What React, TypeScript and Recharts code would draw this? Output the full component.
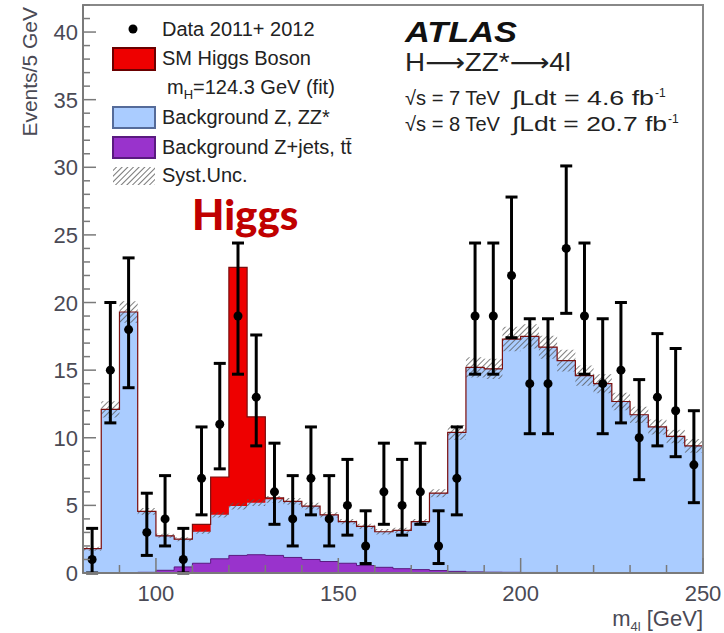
import { ComposedChart, Area, Scatter, ErrorBar, XAxis, YAxis, ReferenceArea } from "recharts";

// lower edge of each 5 GeV bin
const binLow = [
  80, 85, 90, 95, 100, 105, 110, 115, 120, 125, 130, 135, 140, 145, 150, 155, 160,
  165, 170, 175, 180, 185, 190, 195, 200, 205, 210, 215, 220, 225, 230, 235, 240, 245,
];
const higgs = [
  0, 0, 0, 0, 0, 0, 0.55, 2.8, 17.65, 6.35, 0.1, 0, 0, 0, 0, 0, 0,
  0, 0, 0, 0, 0, 0, 0, 0, 0, 0, 0, 0, 0, 0, 0, 0, 0,
];
const zz = [
  1.8, 12.1, 19.27, 4.5, 2.55, 2.05, 2.33, 3.25, 3.65, 3.85, 4.15, 4.15, 3.95, 3.45, 3.08, 2.9, 2.63,
  2.83, 3.55, 5.72, 10.28, 15.12, 15.04, 17.25, 17.46, 16.66, 15.67, 14.57, 13.98, 12.68, 11.7, 10.8, 10.1, 9.4,
];
const zjets = [
  0, 0, 0.03, 0.05, 0.2, 0.45, 0.72, 1.05, 1.3, 1.35, 1.3, 1.15, 1.0, 0.85, 0.72, 0.55, 0.42,
  0.32, 0.25, 0.18, 0.12, 0.08, 0.06, 0.05, 0.04, 0.04, 0.03, 0.03, 0.02, 0, 0, 0, 0, 0,
];
const syst = [
  0.15, 0.6, 0.8, 0.25, 0.15, 0.15, 0.15, 0.2, 0.25, 0.25, 0.25, 0.25, 0.25, 0.2, 0.2, 0.2, 0.2,
  0.2, 0.2, 0.3, 0.55, 0.75, 0.75, 0.9, 0.9, 0.85, 0.8, 0.75, 0.7, 0.65, 0.6, 0.55, 0.5, 0.5,
];
const dataCounts = [
  1, 15, 18, 3, 4, 1, 7, 11, 19, 13, 6, 4, 7, 4, 5, 2, 6,
  5, 6, 2, 7, 19, 19, 22, 14, 14, 24, 19, 14, 15, 10, 13, 12, 8,
];
const dataLow = [
  0, 11.1, 13.7, 1.3, 2.0, 0, 4.3, 7.7, 14.7, 9.4, 3.6, 2.0, 4.3, 2.0, 2.8, 0.7, 3.6,
  2.8, 3.6, 0.7, 4.3, 14.7, 14.7, 17.4, 10.3, 10.3, 19.2, 14.7, 10.3, 11.1, 6.9, 9.4, 8.6, 5.2,
];
const dataHigh = [
  3.3, 20.0, 23.3, 5.9, 7.2, 3.3, 10.8, 15.5, 24.4, 17.6, 9.6, 7.2, 10.8, 7.2, 8.4, 4.6, 9.6,
  8.4, 9.6, 4.6, 10.8, 24.4, 24.4, 27.8, 18.8, 18.8, 30.1, 24.4, 18.8, 20.0, 14.3, 17.7, 16.6, 12.0,
];

const xTicks = [90, 100, 110, 120, 130, 140, 150, 160, 170, 180, 190, 200, 210, 220, 230, 240, 250];
const xLabels = [100, 150, 200, 250];
const yTicks = [
  0, 1, 2, 3, 4, 5, 6, 7, 8, 9, 10, 11, 12, 13, 14, 15, 16, 17, 18, 19, 20, 21,
  22, 23, 24, 25, 26, 27, 28, 29, 30, 31, 32, 33, 34, 35, 36, 37, 38, 39, 40, 41, 42,
];
const yLabels = [0, 5, 10, 15, 20, 25, 30, 35, 40];

const edges = [...binLow, 250];
const histData = edges.map((x, i) => {
  const k = Math.min(i, binLow.length - 1);
  const bkg = zz[k] + zjets[k];
  return {
    x,
    zjets: zjets[k],
    bkg,
    total: bkg + higgs[k],
    band: [bkg - syst[k], bkg + syst[k]],
  };
});

const points = binLow.map((x, i) => ({
  x: x + 2.5,
  y: dataCounts[i],
  err: [dataCounts[i] - dataLow[i], dataHigh[i] - dataCounts[i]],
}));

const FONT = "'Liberation Sans', Arial, sans-serif";
const AXIS = "#7a7a7a";
const LABEL = "#4a4a55";

const XTick = (props: any) => {
  const { x, y, payload } = props;
  const major = xLabels.includes(payload.value);
  return (
    <g>
      <line x1={x} x2={x} y1={y} y2={y - (major ? 15 : 8)} stroke={AXIS} strokeWidth={1.5} />
      {major && (
        <text x={x} y={y + 28} textAnchor="middle" fontSize={22} fontFamily={FONT} fill={LABEL}>
          {payload.value}
        </text>
      )}
    </g>
  );
};

const YTick = (props: any) => {
  const { x, y, payload } = props;
  const major = yLabels.includes(payload.value);
  return (
    <g>
      <line x1={x} x2={x + (major ? 13 : 7)} y1={y} y2={y} stroke={AXIS} strokeWidth={1.5} />
      {major && (
        <text x={x - 5} y={y + 8} textAnchor="end" fontSize={22} fontFamily={FONT} fill={LABEL}>
          {payload.value}
        </text>
      )}
    </g>
  );
};

const Dot = (props: any) => <circle cx={props.cx} cy={props.cy} r={4.5} fill="#000" />;

function Overlay() {
  const t = { fontFamily: FONT, fill: "#222" };
  return (
    <svg width={724} height={633} style={{ position: "absolute", left: 0, top: 0, pointerEvents: "none" }}>
      <defs>
        <pattern id="hatchLegend" width="4" height="4" patternUnits="userSpaceOnUse" patternTransform="rotate(45)">
          <line x1="0" y1="0" x2="0" y2="4" stroke="#555" strokeWidth="1.6" />
        </pattern>
      </defs>
      {/* legend */}
      <circle cx={133} cy={29} r={4.5} fill="#000" />
      <text x={162} y={36} fontSize={20} {...t}>Data 2011+ 2012</text>
      <rect x={113} y={48} width={42} height={22} fill="#ee0000" stroke="#6a0000" strokeWidth={2} />
      <text x={162} y={65} fontSize={20} {...t}>SM Higgs Boson</text>
      <text x={167} y={94} fontSize={20} {...t}>
        m<tspan fontSize={13} dy={5}>H</tspan>
        <tspan dy={-5}>=124.3 GeV (fit)</tspan>
      </text>
      <rect x={113} y={107} width={42} height={21} fill="#aaccff" stroke="#556b99" strokeWidth={2} />
      <text x={162} y={124} fontSize={20} {...t}>Background Z, ZZ*</text>
      <rect x={113} y={137} width={42} height={21} fill="#9933cc" stroke="#5a1a80" strokeWidth={2} />
      <text x={162} y={154} fontSize={20} {...t}>Background Z+jets, tt̄</text>
      <rect x={113} y={167} width={42} height={18} fill="url(#hatchLegend)" />
      <text x={162} y={182} fontSize={20} {...t}>Syst.Unc.</text>

      {/* ATLAS block */}
      <text x={405} y={42} fontSize={30} fontWeight="bold" fontStyle="italic" fontFamily={FONT} fill="#111"
        textLength={112} lengthAdjust="spacingAndGlyphs">ATLAS</text>
      <text x={405} y={71} fontSize={25} fontFamily={FONT} fill="#222" textLength={166} lengthAdjust="spacingAndGlyphs">
        H<tspan fontFamily="'DejaVu Sans'">⟶</tspan>ZZ*<tspan fontFamily="'DejaVu Sans'">⟶</tspan>4l
      </text>
      <text x={405} y={105} fontSize={20} {...t} textLength={95} lengthAdjust="spacingAndGlyphs">√s = 7 TeV</text>
      <text x={512} y={105} fontSize={20} {...t} textLength={142} lengthAdjust="spacingAndGlyphs">∫Ldt = 4.6 fb</text>
      <text x={655} y={97} fontSize={12} {...t}>-1</text>
      <text x={405} y={131} fontSize={20} {...t} textLength={95} lengthAdjust="spacingAndGlyphs">√s = 8 TeV</text>
      <text x={512} y={131} fontSize={20} {...t} textLength={155} lengthAdjust="spacingAndGlyphs">∫Ldt = 20.7 fb</text>
      <text x={668} y={123} fontSize={12} {...t}>-1</text>

      {/* annotation */}
      <text x={192} y={230} fontSize={42} fontWeight={900} fontFamily="Lato, sans-serif" fill="#c00000">Higgs</text>

      {/* axis titles */}
      <text x={37} y={7} fontSize={21} fontFamily={FONT} fill={LABEL} textAnchor="end" transform="rotate(-90, 37, 7)">
        Events/5 GeV
      </text>
      <text x={703} y={626} fontSize={22} fontFamily={FONT} fill={LABEL} textAnchor="end">
        m<tspan fontSize={13} dy={5}>4l</tspan>
        <tspan dy={-5}> [GeV]</tspan>
      </text>
    </svg>
  );
}

export default function App() {
  return (
    <div style={{ position: "fixed", left: 0, top: 0, width: 724, height: 633, background: "#fff" }}>
      <ComposedChart width={724} height={633} data={histData} margin={{ top: 5, right: 21, bottom: 20, left: 23 }}>
        <defs>
          <pattern id="hatch" width="4" height="4" patternUnits="userSpaceOnUse" patternTransform="rotate(45)">
            <line x1="0" y1="0" x2="0" y2="4" stroke="#555" strokeWidth="1.5" />
          </pattern>
        </defs>
        <XAxis
          dataKey="x"
          type="number"
          domain={[80, 250]}
          allowDataOverflow
          ticks={xTicks}
          interval={0}
          tickSize={0}
          tickMargin={0}
          tickLine={false}
          height={40}
          axisLine={{ stroke: AXIS, strokeWidth: 2 }}
          tick={<XTick />}
        />
        <YAxis
          type="number"
          domain={[0, 42]}
          allowDataOverflow
          ticks={yTicks}
          interval={0}
          tickSize={0}
          tickMargin={0}
          tickLine={false}
          width={60}
          axisLine={{ stroke: AXIS, strokeWidth: 2 }}
          tick={<YTick />}
        />
        <Area type="stepAfter" dataKey="total" fill="#ee0000" fillOpacity={1} stroke="none" isAnimationActive={false} />
        <Area type="stepAfter" dataKey="bkg" fill="#aaccff" fillOpacity={1} stroke="none" isAnimationActive={false} />
        <Area type="stepAfter" dataKey="zjets" fill="#9933cc" fillOpacity={1} stroke="#5a1a80" strokeWidth={1} isAnimationActive={false} />
        <Area type="stepAfter" dataKey="band" fill="url(#hatch)" fillOpacity={1} stroke="none" isAnimationActive={false} />
        <Area type="stepAfter" dataKey="total" fill="none" stroke="#7a1010" strokeWidth={1.2} isAnimationActive={false} />
        <Scatter data={points} dataKey="y" shape={<Dot />} isAnimationActive={false}>
          <ErrorBar dataKey="err" direction="y" width={6} strokeWidth={3} stroke="#000" />
        </Scatter>
        <ReferenceArea x1={80} x2={250} y1={0} y2={42} fill="none" stroke="#888" strokeWidth={2} ifOverflow="visible" />
      </ComposedChart>
      <Overlay />
    </div>
  );
}
